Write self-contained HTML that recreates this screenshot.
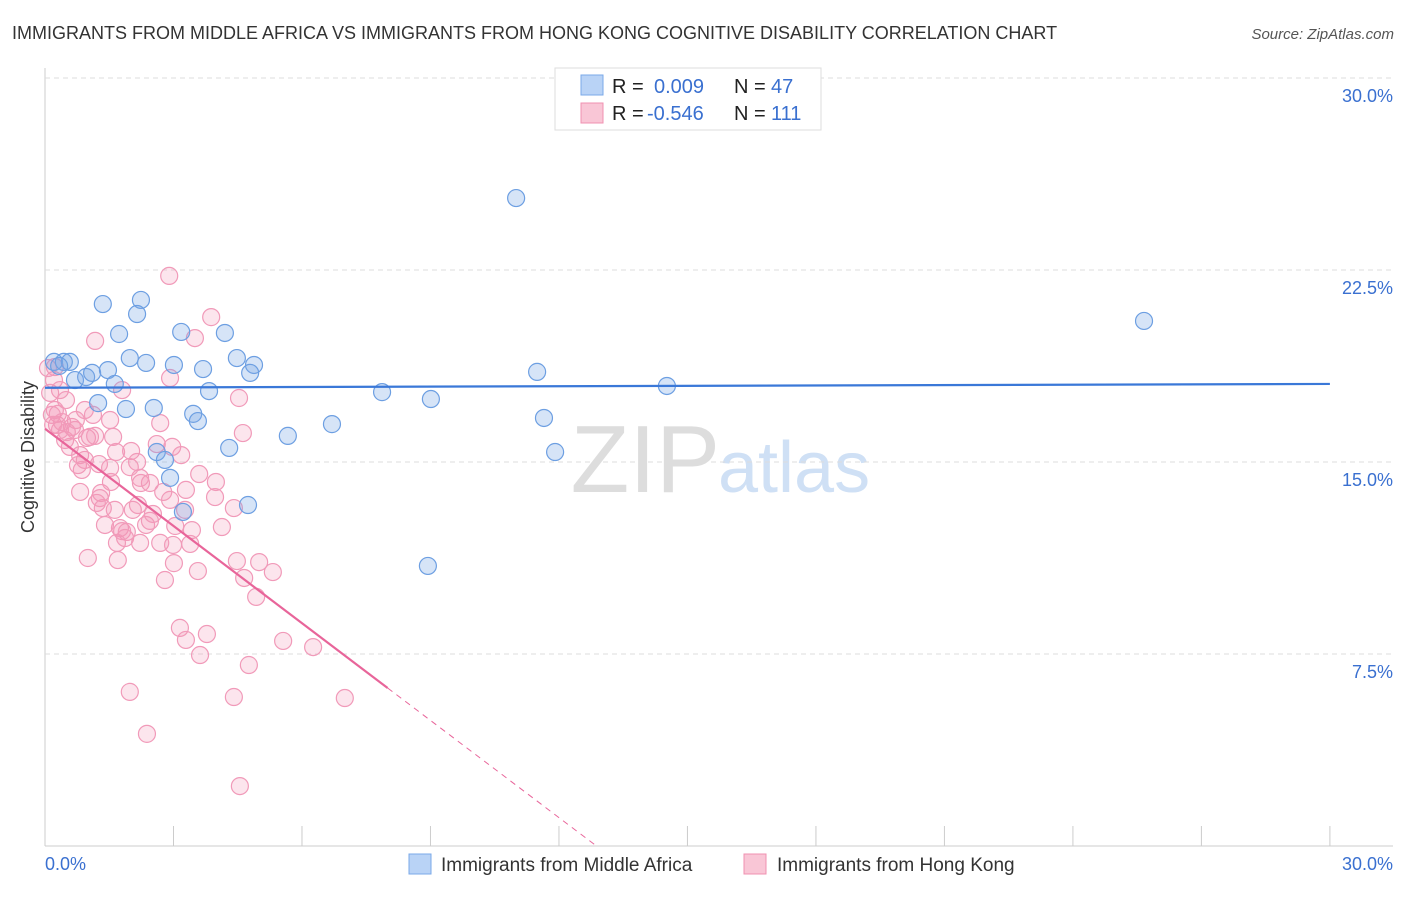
<!DOCTYPE html>
<html><head><meta charset="utf-8"><style>
body{margin:0;background:#fff;font-family:"Liberation Sans",sans-serif;}
svg text{font-family:"Liberation Sans",sans-serif;}
</style></head><body>
<svg id="chart" width="1406" height="892">
<text x="12" y="39" font-size="18" fill="#333">IMMIGRANTS FROM MIDDLE AFRICA VS IMMIGRANTS FROM HONG KONG COGNITIVE DISABILITY CORRELATION CHART</text>
<text x="1394" y="39" font-size="15" fill="#555" font-style="italic" text-anchor="end">Source: ZipAtlas.com</text>
<text x="34" y="457" font-size="18" fill="#333" text-anchor="middle" transform="rotate(-90 34 457)">Cognitive Disability</text>
<text x="720" y="492" font-size="96" fill="#ddd" text-anchor="end" font-family="Liberation Serif">ZIP</text>
<text x="718" y="492" font-size="72" fill="#cfe0f5">atlas</text>
<g id="grid"></g><g id="ticks"></g><g id="marks"></g>
<g>
<rect x="555" y="68" width="266" height="62" fill="#fff" stroke="#ddd"/>
<rect x="581" y="75" width="22" height="20" fill="#b9d3f6" stroke="#7aa8e8"/>
<rect x="581" y="103" width="22" height="20" fill="#f9c6d6" stroke="#f090b0"/>
<text x="612" y="93" font-size="20" fill="#222">R = </text><text x="654" y="93" font-size="20" fill="#3a70d0">0.009</text>
<text x="734" y="93" font-size="20" fill="#222">N = </text><text x="771" y="93" font-size="20" fill="#3a70d0">47</text>
<text x="612" y="120" font-size="20" fill="#222">R = </text><text x="647" y="120" font-size="20" fill="#3a70d0">-0.546</text>
<text x="734" y="120" font-size="20" fill="#222">N = </text><text x="771" y="120" font-size="20" fill="#3a70d0">111</text>
</g>
<g>
<rect x="409" y="854" width="22" height="20" fill="#b9d3f6" stroke="#7aa8e8"/>
<text x="441" y="871" font-size="19" fill="#333">Immigrants from Middle Africa</text>
<rect x="744" y="854" width="22" height="20" fill="#f9c6d6" stroke="#f090b0"/>
<text x="777" y="871" font-size="19" fill="#333">Immigrants from Hong Kong</text>
</g>
</svg>
<script>
const blueX=[11.0,25.66,1.35,2.24,2.15,1.73,3.18,4.2,0.21,0.44,0.58,0.33,1.98,2.36,3.01,3.69,4.48,4.88,4.79,0.70,0.96,1.10,1.47,1.63,3.83,7.87,11.49,14.52,9.01,1.24,1.89,2.54,3.46,3.57,6.70,11.65,5.67,4.30,2.61,2.80,11.91,4.74,3.22,8.94,2.92];
const blueY=[25.31,20.51,21.17,21.33,20.78,20.0,20.08,20.04,18.91,18.91,18.91,18.75,19.06,18.87,18.79,18.63,19.06,18.79,18.48,18.2,18.32,18.48,18.59,18.05,17.77,17.73,18.52,17.97,17.46,17.3,17.07,17.11,16.88,16.6,16.48,16.72,16.02,15.55,15.39,15.08,15.39,13.32,13.05,10.94,14.38];
const pinkX=[2.90,3.88,3.50,1.17,0.23,2.92,1.80,4.53,0.21,0.12,0.35,0.49,0.23,0.30,0.93,0.98,0.63,0.72,0.35,0.47,0.58,0.82,1.05,1.17,1.52,1.59,1.66,2.01,2.69,2.61,2.97,3.18,4.62,0.16,0.28,0.40,0.51,0.70,0.77,0.86,0.82,1.26,1.52,1.54,1.98,2.15,2.24,2.45,2.76,3.60,3.99,3.97,4.41,1.31,1.35,1.63,1.21,1.75,1.80,1.40,1.91,2.05,2.36,2.45,2.52,3.04,3.43,4.13,1.68,1.87,2.22,2.69,2.99,3.39,1.0,1.70,3.01,3.57,5.0,5.32,4.65,2.80,4.93,3.15,3.29,3.78,3.62,5.56,6.26,4.76,1.98,4.41,7.0,2.38,4.55,0.07,0.19,0.93,1.28,2.22,2.92,3.29,1.12,2.17,3.27,4.48];
const pinkY=[22.27,20.66,19.84,19.73,18.71,18.28,17.81,17.50,18.20,17.70,17.81,17.42,17.03,16.88,17.03,15.94,16.37,16.64,16.25,15.86,15.59,15.27,15.98,16.02,16.64,15.98,15.39,15.43,16.52,15.70,15.59,15.27,16.13,16.84,16.45,16.56,16.17,16.25,14.88,14.69,13.83,14.92,14.77,14.22,14.80,15.0,14.18,14.18,13.83,14.53,14.22,13.63,13.20,13.79,13.20,13.13,13.40,12.42,12.30,12.54,12.27,13.13,12.54,12.70,12.97,12.50,12.34,12.46,11.84,12.03,11.84,11.84,11.76,11.80,11.25,11.17,11.05,10.74,11.09,10.70,10.47,10.39,9.73,8.52,8.05,8.28,7.46,8.01,7.77,7.07,6.02,5.82,5.78,4.38,2.34,18.67,16.45,15.08,13.59,14.38,13.52,13.91,16.84,13.32,13.13,11.13];
const yTicks=[7.5,15,22.5,30];
const yTickLabels=["7.5%","15.0%","22.5%","30.0%"];
const xTicks=[0,3,6,9,12,15,18,21,24,27,30];
const blueFit=[17.9,18.05];
const pinkFit=[16.3,-1.266];
const X=v=>45+v*42.83, Y=v=>846-v*25.6;
const NS="http://www.w3.org/2000/svg";
function mk(tag,attrs,parent){const e=document.createElementNS(NS,tag);for(const k in attrs)e.setAttribute(k,attrs[k]);document.getElementById(parent).appendChild(e);return e;}
let e=mk('line',{x1:45,x2:45,y1:68,y2:846,stroke:'#ccc'},'grid');


e=mk('line',{x1:45,x2:1393,y1:846,y2:846,stroke:'#ccc'},'grid');


yTicks.forEach((t,i)=>{
 let g=mk('line',{x1:45,x2:1393,y1:Y(t),y2:Y(t),stroke:'#ddd','stroke-dasharray':'5,4'},'grid');
 
 
 let l=mk('text',{x:1393,y:Y(t)+24,'font-size':18,fill:'#3a70d0','text-anchor':'end'},'ticks');
 l.textContent=yTickLabels[i];
 
 
});
xTicks.forEach(t=>{
 let k=mk('line',{x1:X(t),x2:X(t),y1:826,y2:846,stroke:'#ccc'},'ticks');
 
 
});
let a=mk('text',{x:45,y:870,'font-size':18,fill:'#3a70d0'},'ticks');a.textContent='0.0%';


a=mk('text',{x:1393,y:870,'font-size':18,fill:'#3a70d0','text-anchor':'end'},'ticks');a.textContent='30.0%';


pinkX.forEach((x,i)=>{
 let c=mk('circle',{cx:X(x),cy:Y(pinkY[i]),r:8.5,fill:'rgba(244,150,185,0.25)',stroke:'#f19ab9','stroke-width':1.2},'marks');
 
 
});
blueX.forEach((x,i)=>{
 let c=mk('circle',{cx:X(x),cy:Y(blueY[i]),r:8.5,fill:'rgba(120,165,230,0.3)',stroke:'#6d9fe2','stroke-width':1.2},'marks');
 
 
});
let b=mk('line',{x1:X(0),y1:Y(blueFit[0]),x2:X(30),y2:Y(blueFit[1]),stroke:'#3a78d8','stroke-width':2.2},'marks');


const pf=x=>pinkFit[0]+pinkFit[1]*x;
let p=mk('line',{x1:X(0),y1:Y(pf(0)),x2:X(8),y2:Y(pf(8)),stroke:'#e8659a','stroke-width':2.2},'marks');


const xz=-pinkFit[0]/pinkFit[1];
p=mk('line',{x1:X(8),y1:Y(pf(8)),x2:X(xz),y2:Y(0),stroke:'#e8659a','stroke-width':1,'stroke-dasharray':'6,5'},'marks');


</script>
</body></html>
